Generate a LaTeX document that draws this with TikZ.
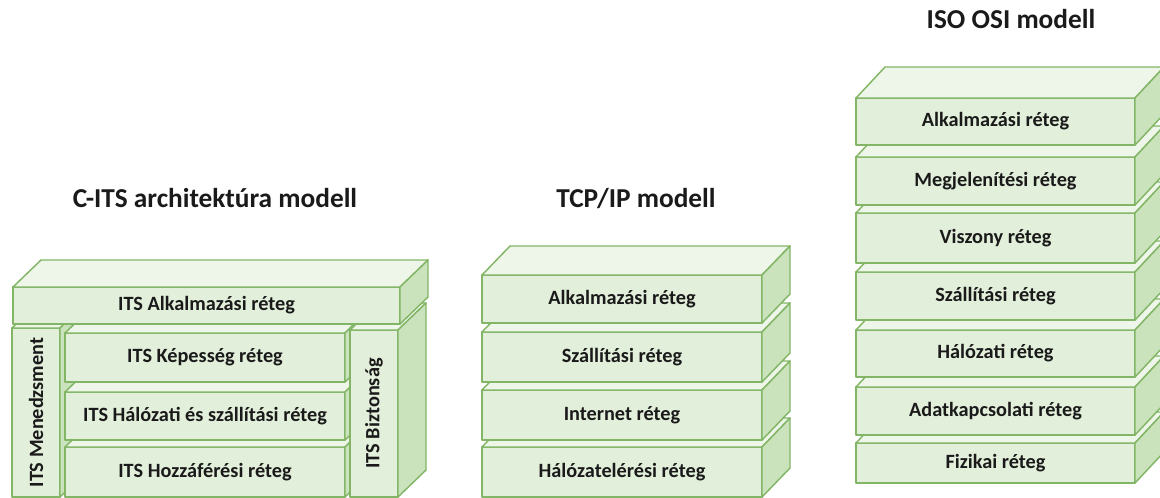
\documentclass[tikz,border=0pt]{standalone}
\usepackage{fontspec}
\setmainfont{Carlito}
\usepackage{graphicx}
\definecolor{frontc}{HTML}{E2EFDA}
\definecolor{topc}{HTML}{EEF6E9}
\definecolor{sidec}{HTML}{CBE3BC}
\definecolor{edgec}{HTML}{82B666}
\definecolor{textc}{HTML}{1A1A1A}
\tikzset{
  face/.style={draw=edgec, line width=1.1pt, fill=frontc, inner sep=0pt, outer sep=0pt,
    text=textc, font=\fontsize{15.2}{18}\selectfont\bfseries, line join=round},
  topface/.style={draw=edgec, line width=1.1pt, fill=topc, line join=round},
  sideface/.style={draw=edgec, line width=1.1pt, fill=sidec, line join=round},
  titletext/.style={font=\fontsize{20.5}{24}\selectfont\bfseries, text=textc, anchor=base, inner sep=0pt}
}
% name, x1, y1, x2, y2, dx, dy, text
\newcommand\layerbox[8]{%
  \pgfmathsetmacro\bw{(#4-#2)*0.75}%
  \pgfmathsetmacro\bh{(#5-#3)*0.75}%
  \pgfmathsetmacro\bwu{#4-#2}%
  \pgfmathsetmacro\bhu{#5-#3}%
  \node[face, minimum width=\bw pt, minimum height=\bh pt] (#1) at ({(#2+#4)/2},{(#3+#5)/2}) {#8};
  \path[topface] (#1.north west) -- ++(#6,#7) -- ++(\bwu,0) -- (#1.north east) -- cycle;
  \path[sideface] (#1.north east) -- ++(#6,#7) -- ++(0,\bhu) -- (#1.south east) -- cycle;
}
\begin{document}
\begin{tikzpicture}[x=0.75pt,y=-0.75pt]
\useasboundingbox (0,0) rectangle (1160,497);
% titles
\node[titletext] (t1) at (215,207) {C-ITS architektúra modell};
\node[titletext] (t2) at (636,207) {TCP/IP modell};
\node[titletext] (t3) at (1011,28) {ISO OSI modell};
% C-ITS
\layerbox{men}{12}{328}{60}{497}{28}{-27}{\rotatebox{90}{ITS Menedzsment}}
\layerbox{hoz}{65}{447}{345}{497}{28}{-27}{ITS Hozzáférési réteg}
\layerbox{hal}{65}{392}{345}{440}{28}{-27}{ITS Hálózati és szállítási réteg}
\layerbox{kep}{65}{333}{345}{382}{28}{-27}{ITS Képesség réteg}
\layerbox{biz}{350}{330}{398}{497}{28}{-27}{\rotatebox{90}{ITS Biztonság}}
\layerbox{alk}{13}{287}{400}{324}{28}{-27}{ITS Alkalmazási réteg}
% TCP/IP
\layerbox{tc4}{482}{447}{762}{497}{28}{-29}{Hálózatelérési réteg}
\layerbox{tc3}{482}{390}{762}{440}{28}{-29}{Internet réteg}
\layerbox{tc2}{482}{332}{762}{382}{28}{-29}{Szállítási réteg}
\layerbox{tc1}{482}{275}{762}{323}{28}{-29}{Alkalmazási réteg}
% OSI
\layerbox{os7}{856}{443}{1135}{483}{29}{-31}{Fizikai réteg}
\layerbox{os6}{856}{387}{1135}{435}{29}{-31}{Adatkapcsolati réteg}
\layerbox{os5}{856}{330}{1135}{377}{29}{-31}{Hálózati réteg}
\layerbox{os4}{856}{272}{1135}{320}{29}{-31}{Szállítási réteg}
\layerbox{os3}{856}{213}{1135}{263}{29}{-31}{Viszony réteg}
\layerbox{os2}{856}{157}{1135}{205}{29}{-31}{Megjelenítési réteg}
\layerbox{os1}{856}{98}{1135}{145}{29}{-31}{Alkalmazási réteg}
\end{tikzpicture}
\end{document}
